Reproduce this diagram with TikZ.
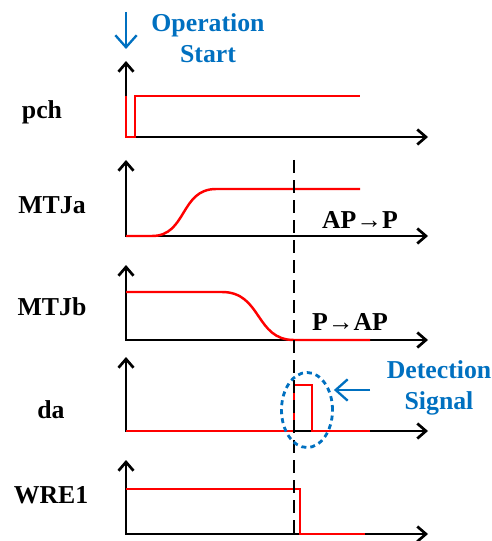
\documentclass[tikz,border=0pt]{standalone}
\usepackage{fontspec}
\setmainfont{Liberation Serif}
\usetikzlibrary{arrows.meta,shapes.geometric}
\definecolor{sigred}{RGB}{255,0,0}
\definecolor{office}{RGB}{0,112,192}
\tikzset{
  >={Straight Barb[length=2.6mm,width=4.5mm]},
  axis/.style={<->,line width=2.3pt,black},
  wave/.style={line width=2.1pt,sigred},
  marker/.style={line width=1.9pt,black,dash pattern=on 4mm off 2mm},
  sig/.style={font=\fontsize{22}{26}\selectfont\bfseries,inner sep=0pt},
  note/.style={sig,text=office,align=center},
  pointer/.style={-{Straight Barb[length=3.6mm,width=6.4mm]},office,line width=2pt},
}

\begin{document}
\begin{tikzpicture}[x=0.03cm,y=-0.03cm]
  \useasboundingbox (0,0) rectangle (491,541);
  % axes and signal names
  \foreach \n/\b/\t/\lx/\ly in {pch/137/61/42/119, MTJa/236/160/52/213,
      MTJb/340/265/52/315, da/431/357/51/418, WRE1/534/460/51/503}{
    \coordinate (\n-o) at (126,\b);
    \coordinate (\n-y) at (126,\t);
    \coordinate (\n-x) at (428,\b);
    \draw[axis] (\n-y) -- (\n-o) -- (\n-x);
    \node[sig,anchor=base] (lbl-\n) at (\lx,\ly) {\n};
  }
  % waveforms
  \draw[wave] (126,96) -- (pch-o) -- (135,137) -- (135,96) -- (360,96);
  \draw[wave] (MTJa-o) -- (152,236) .. controls (187,236) and (180,189) .. (216,189) -- (360,189);
  \draw[wave] (126,292) -- (222,292) .. controls (262,292) and (255,340) .. (294,340) -- (370,340);
  \draw[wave] (da-o) -- (294,431) -- (294,385) -- (312,385) -- (312,431) -- (370,431);
  \draw[wave] (126,489) -- (300,489) -- (300,534) -- (365,534);
  % detection instant
  \coordinate (cut-top) at (294,160);
  \coordinate (cut-bot) at (294,537);
  \draw[marker] (cut-top) -- (cut-bot);
  \node[sig,anchor=base] (ap-p) at (360,228) {AP→P};
  \node[sig,anchor=base] (p-ap) at (350,330) {P→AP};
  % annotations
  \coordinate (go-top) at (126,12);
  \coordinate (go-bot) at (126,49);
  \draw[pointer] (go-top) -- (go-bot);
  \node[note] (start) at (208,38) {Operation\\Start};
  \node[ellipse,draw=office,line width=2.4pt,dash pattern=on 1.5mm off 1.2mm,
    minimum width=15.3mm,minimum height=22.5mm,inner sep=0pt] (det) at (307,410) {};
  \node[note] (dettext) at (439,388) {Detection\\Signal};
  \coordinate (det-tail) at (370,390);
  \draw[pointer] (det-tail) -- (det-tail -| det.east);
\end{tikzpicture}
\end{document}
